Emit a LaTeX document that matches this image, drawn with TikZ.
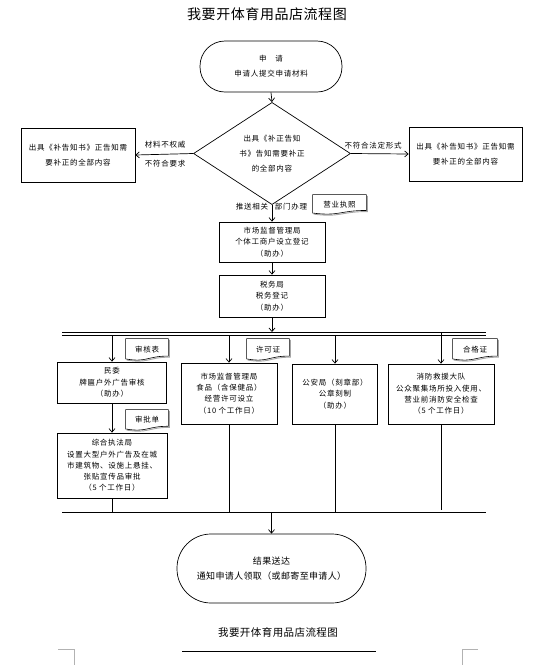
\documentclass[tikz,border=0pt]{standalone}
\usepackage{fontspec}
\newfontfamily\cjk[LetterSpace=10]{Noto Sans CJK SC}
\newfontfamily\cjkb[LetterSpace=4]{Noto Sans CJK SC}
\usetikzlibrary{arrows.meta,shapes.geometric,calc}
\newcommand\docshape[1]{%
  \draw[gray!70,line width=0.9pt] ($(#1.north east)+(1.1,1.1)$) -- ($(#1.north east)!0.802!(#1.south east)+(1.1,1.1)$) .. controls ($(#1.north)!0.802!(#1.south)+(1.1,1.1)$) and ($(#1.north)!1.107!(#1.south)+(1.1,1.1)$) .. ($(#1.north west)!0.934!(#1.south west)+(1.1,1.1)$);
  \draw[line width=0.6pt] (#1.north west) -- (#1.north east) -- ($(#1.north east)!0.802!(#1.south east)$) .. controls ($(#1.north)!0.802!(#1.south)$) and ($(#1.north)!1.107!(#1.south)$) .. ($(#1.north west)!0.934!(#1.south west)$) -- cycle;}
\begin{document}
\begin{tikzpicture}[x=1pt,y=-1pt,line width=0.7pt,
  txt/.style={font=\cjk\fontsize{7.5}{11.3}\selectfont, align=center, inner sep=0pt},
  wide/.style={font=\cjk\fontsize{7.5}{15}\selectfont},
  box/.style={txt, draw, rectangle},
  term/.style={txt, draw, rectangle, rounded corners=#1},
  dec/.style={txt, draw, diamond},
  lbl/.style={txt},
  doc/.style={txt, minimum width=#1, minimum height=20pt},
  arr/.style={-{Straight Barb[length=3.5pt,width=6pt]}},
  bus/.style={line width=0.8pt},
  cornermark/.style={draw=gray!60, line width=0.6pt}
]
\useasboundingbox (0,0) rectangle (541,665);

% title
\node[font=\cjkb\fontsize{14}{16}\selectfont, inner sep=0pt] (title) at (267,14) {我要开体育用品店流程图};

% start
\node[term=25pt, wide, minimum width=142pt, minimum height=51pt] (start) at (271,66.5) {申　请\\申请人提交申请材料};

% decision
\node[dec, wide, minimum width=157pt, minimum height=95pt] (dec) at (272,153.5) {出具《补正告知\\书》告知需要补正\\的全部内容};

% side boxes
\node[box, wide, minimum width=114pt, minimum height=54pt] (lb) at (78,155) {出具《补告知书》正告知需\\要补正的全部内容};
\node[box, wide, minimum width=113pt, minimum height=54pt] (rb) at (465.5,154) {出具《补告知书》正告知需\\要补正的全部内容};

\draw[arr] (start.south) -- (dec.north);
\draw[arr] (dec.west) -- (lb.east);
\draw[arr] (dec.east) -- (rb.west);
\node[lbl] (l1) at (165,145) {材料不权威};
\node[lbl] (l2) at (165,164) {不符合要求};
\node[lbl] (l3) at (373,146) {不符合法定形式};

% main chain
\node[box, minimum width=106pt, minimum height=40pt] (b1) at (272,242) {市场监督管理局\\个体工商户设立登记\\（助办）};
\node[box, minimum width=106pt, minimum height=42pt] (b2) at (272,296) {税务局\\税务登记\\（助办）};
\draw[arr] (dec.south) -- (b1.north);
\node[lbl] (l4) at (252,207) {推送相关};
\node[lbl] (l5) at (291,207) {部门办理};
\node[doc=53pt, minimum height=19pt] (yz) at (339.5,204.5) {营业执照};
\docshape{yz}
\draw[arr] (b1.south) -- (b2.north);

% upper bus
\coordinate (busAL) at (62,332);
\coordinate (busAR) at (486,332);
\coordinate (busBL) at (62,335);
\coordinate (busBR) at (486,335);
\coordinate (busin) at (272,332);
\draw[bus] (busAL) -- (busAR);
\draw[bus] (busBL) -- (busBR);
\draw[arr] (b2.south) -- (busin);

% parallel boxes
\node[box, minimum width=109pt, minimum height=41pt] (mw) at (112,382.5) {民委\\牌匾户外广告审核\\（助办）};
\node[box, minimum width=96pt, minimum height=61pt] (sj) at (229,393.5) {市场监督管理局\\食品（含保健品）\\经营许可设立\\（10 个工作日）};
\node[box, minimum width=85pt, minimum height=60pt] (ga) at (335,394) {公安局（刻章部）\\公章刻制\\（助办）};
\node[box, minimum width=106pt, minimum height=60pt] (xf) at (441,394) {消防救援大队\\公众聚集场所投入使用、\\营业前消防安全检查\\（5 个工作日）};
\node[box, minimum width=110pt, minimum height=65pt] (zh) at (112,465.5) {综合执法局\\设置大型户外广告及在城\\市建筑物、设施上悬挂、\\张贴宣传品审批\\（5 个工作日）};

\coordinate (d1) at (112,335);
\coordinate (d2) at (229,335);
\coordinate (d3) at (335,335);
\coordinate (d4) at (441,332);
\draw[arr] (d1) -- (mw.north);
\draw[arr] (d2) -- (sj.north);
\draw[arr] (d3) -- (ga.north);
\draw[arr] (d4) -- (xf.north);
\draw[arr] (mw.south) -- (zh.north);

\node[doc=42pt, minimum height=21pt] (shb) at (147,349.5) {审核表};
\node[doc=42pt, minimum height=21pt] (xkz) at (268,349.5) {许可证};
\node[doc=44pt, minimum height=21pt] (hgz) at (475,349.5) {合格证};
\node[doc=42pt, minimum height=20pt] (spd) at (147,420) {审批单};
\docshape{shb}
\docshape{xkz}
\docshape{hgz}
\docshape{spd}

% lower bus
\coordinate (busCL) at (62,512);
\coordinate (busCR) at (486,512);
\coordinate (u1) at (112,512);
\coordinate (u2) at (229,512);
\coordinate (u3) at (335,512);
\coordinate (u4) at (441,510);
\coordinate (busout) at (271.5,512);
\draw[bus] (busCL) -- (busCR);
\draw (zh.south) -- (u1);
\draw (sj.south) -- (u2);
\draw (ga.south) -- (u3);
\draw (xf.south) -- (u4);

% end
\node[term=34pt, font=\cjkb\fontsize{9}{15}\selectfont, minimum width=189pt, minimum height=69pt] (end) at (271.5,568.5) {结果送达\\通知申请人领取（或邮寄至申请人）};
\draw[arr] (busout) -- (end.north);

% footer
\node[font=\cjkb\fontsize{10.5}{12}\selectfont, inner sep=0pt] (foot) at (278,632) {我要开体育用品店流程图};
\coordinate (fl1) at (182,651);
\coordinate (fl2) at (376,651);
\draw[line width=0.8pt] (fl1) -- (fl2);
\coordinate (m1a) at (58,649);
\coordinate (m1b) at (74,649);
\coordinate (m1c) at (74,665);
\coordinate (m2a) at (478,649);
\coordinate (m2b) at (462,649);
\coordinate (m2c) at (462,665);
\draw[cornermark] (m1a) -- (m1b) -- (m1c);
\draw[cornermark] (m2a) -- (m2b) -- (m2c);
\end{tikzpicture}
\end{document}
